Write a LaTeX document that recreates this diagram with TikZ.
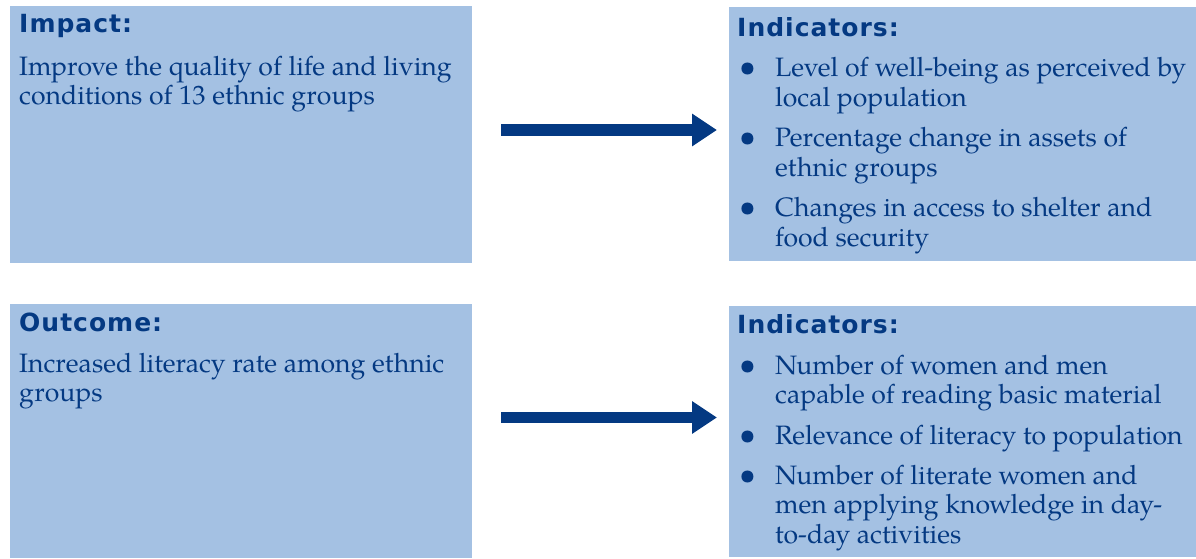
\documentclass[tikz,border=0pt]{standalone}
\usepackage{fontspec}
\setmainfont{TeX Gyre Pagella}
\newfontfamily\headfont{DejaVu Sans}[LetterSpace=4]
\usetikzlibrary{arrows.meta}
\definecolor{boxblue}{RGB}{164,193,227}
\definecolor{navy}{RGB}{4,57,130}
\tikzset{
  box/.style={fill=boxblue, draw=none, anchor=north west, inner sep=0pt, outer sep=0pt},
  head/.style={anchor=base west, inner sep=0pt, text=navy, font=\headfont\bfseries\fontsize{25}{29}\selectfont},
  body/.style={anchor=base west, inner sep=0pt, text=navy, font=\fontsize{26.6}{29.5}\selectfont},
  bul/.style={anchor=base, inner sep=0pt, text=navy, font=\fontsize{30}{30}\selectfont},
  bigarrow/.style={draw=navy, line width=11.5pt, -{Triangle[length=25pt,width=31pt]}}
}
\begin{document}
\begin{tikzpicture}[x=1pt,y=-1pt]
\useasboundingbox (0,0) rectangle (1196,558);
% boxes
\node[box, minimum width=462pt, minimum height=256.5pt] (impact) at (10,6) {};
\node[box, minimum width=467pt, minimum height=253.5pt] (ind1) at (729,7) {};
\node[box, minimum width=462pt, minimum height=254pt] (outcome) at (10,304) {};
\node[box, minimum width=467pt, minimum height=251pt] (ind2) at (729,306) {};
% top left
\node[head] (h1) at (19,32) {Impact:};
\node[body] (t1a) at (19,75) {Improve the quality of life and living};
\node[body] (t1b) at (19,104.5) {conditions of 13 ethnic groups};
% top right
\node[head] (h2) at (737,36.5) {Indicators:};
\node[bul] (b1) at (748,76) {•};
\node[body] (i1a) at (775,76) {Level of well-being as perceived by};
\node[body] (i1b) at (775,106) {local population};
\node[bul] (b2) at (748,146.5) {•};
\node[body] (i2a) at (775,146.5) {Percentage change in assets of};
\node[body] (i2b) at (775,176) {ethnic groups};
\node[bul] (b3) at (748,216.5) {•};
\node[body] (i3a) at (775,216.5) {Changes in access to shelter and};
\node[body] (i3b) at (775,246) {food security};
% bottom left
\node[head] (h3) at (19,331) {Outcome:};
\node[body] (t2a) at (19,372.5) {Increased literacy rate among ethnic};
\node[body] (t2b) at (19,401.5) {groups};
% bottom right
\node[head] (h4) at (737,333.5) {Indicators:};
\node[bul] (b4) at (748,374) {•};
\node[body] (j1a) at (775,374) {Number of women and men};
\node[body] (j1b) at (775,403.5) {capable of reading basic material};
\node[bul] (b5) at (748,444) {•};
\node[body] (j2a) at (775,444) {Relevance of literacy to population};
\node[bul] (b6) at (748,484) {•};
\node[body] (j3a) at (775,484) {Number of literate women and};
\node[body] (j3b) at (775,513.5) {men applying knowledge in day-};
\node[body] (j3c) at (775,543) {to-day activities};
% arrows
\coordinate (a1s) at (501,130);
\coordinate (a1e) at (717,130);
\coordinate (a2s) at (501,417.5);
\coordinate (a2e) at (717,417.5);
\draw[bigarrow] (a1s) -- (a1e);
\draw[bigarrow] (a2s) -- (a2e);
\end{tikzpicture}
\end{document}
